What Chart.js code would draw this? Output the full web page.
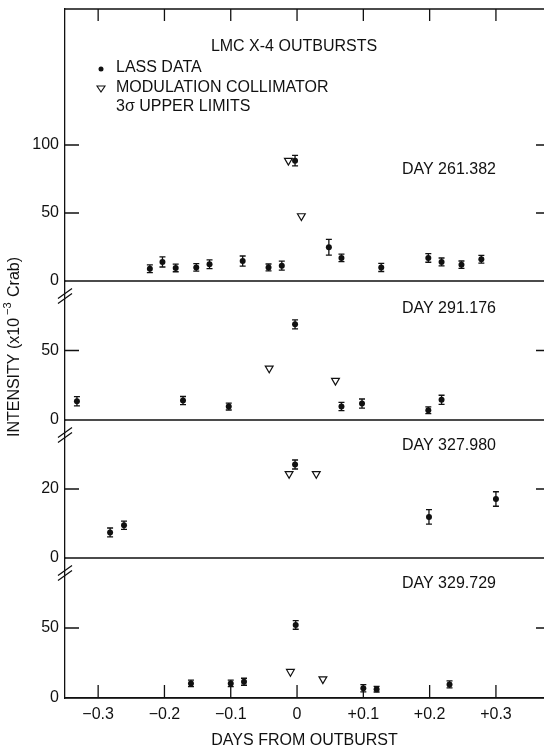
<!DOCTYPE html>
<html>
<head>
<meta charset="utf-8">
<script src="https://cdn.jsdelivr.net/npm/chart.js@4/dist/chart.umd.min.js"></script>
<style>
  html, body { margin: 0; padding: 0; background: #fff; }
  canvas { display: block; }
</style>
</head>
<body>
<canvas id="lmcChart" width="544" height="750"></canvas>
<script>
// days from outburst on the x axis
const xTicks = [-0.3, -0.2, -0.1, 0, 0.1, 0.2, 0.3];

// DAY 261.382
const p1LassX = [-0.222, -0.203, -0.183, -0.152, -0.132, -0.082, -0.043, -0.023, -0.003, 0.048, 0.067, 0.127, 0.198, 0.218, 0.248, 0.278];
const p1LassY = [9, 14, 9.6, 10, 12.3, 14.7, 10, 11.3, 88.5, 24.8, 17, 10, 17, 14, 12, 16];
const p1LassErr = [2.8, 3.7, 2.8, 2.8, 3.2, 3.7, 2.5, 3.3, 3.8, 5.8, 2.8, 3, 3.2, 2.9, 2.7, 2.8];
const p1McX = [-0.013, 0.0065];
const p1McY = [88.5, 47.8];

// DAY 291.176
const p2LassX = [-0.332, -0.172, -0.103, -0.003, 0.067, 0.098, 0.198, 0.218];
const p2LassY = [13.5, 14, 9.7, 68.8, 9.7, 11.8, 7, 14.5];
const p2LassErr = [3.3, 2.9, 2.5, 3.3, 3, 3.3, 2.4, 3.3];
const p2McX = [-0.042, 0.058];
const p2McY = [37.2, 28.3];

// DAY 327.980
const p3LassX = [-0.282, -0.261, -0.003, 0.199, 0.300];
const p3LassY = [7.4, 9.5, 27.1, 11.9, 17.1];
const p3LassErr = [1.3, 1.2, 1.3, 2.1, 2.1];
const p3McX = [-0.012, 0.029];
const p3McY = [24.4, 24.4];

// DAY 329.729
const p4LassX = [-0.160, -0.100, -0.080, -0.002, 0.100, 0.120, 0.230];
const p4LassY = [10.4, 10.4, 11.6, 52.2, 7, 6.3, 9.7];
const p4LassErr = [2.3, 2.3, 2.5, 3.1, 2.6, 2, 2.5];
const p4McX = [-0.010, 0.039];
const p4McY = [18.8, 13.5];

// y ranges and tick labels per panel
const panelDays = ["DAY 261.382", "DAY 291.176", "DAY 327.980", "DAY 329.729"];
const panelMax = [200, 100, 40, 100];
const panelTicks = [[0, 50, 100], [0, 50], [0, 20], [0, 50]];

const ink = "#111";
const font = '"Liberation Sans", Arial, Helvetica, sans-serif';
Chart.defaults.font.family = font;
Chart.defaults.font.size = 16;
Chart.defaults.color = ink;

function pts(xs, ys) {
    return xs.map((x, i) => ({ x: x, y: ys[i] }));
}

function lass(xs, ys, err, axis) {
    return {
        label: "LASS DATA",
        data: pts(xs, ys),
        err: err,
        yAxisID: axis,
        pointStyle: "circle",
        pointRadius: 3,
        pointBackgroundColor: ink,
        pointBorderColor: ink,
        pointBorderWidth: 0,
    };
}

function mc(xs, ys, axis) {
    return {
        label: "MODULATION COLLIMATOR",
        data: pts(xs, ys),
        yAxisID: axis,
        pointStyle: "triangle",
        rotation: 180,
        pointRadius: 4.5,
        pointBackgroundColor: "#fff",
        pointBorderColor: ink,
        pointBorderWidth: 1.2,
    };
}

// no edge padding: labels do not sit on the ends of the axes
function noPad(s) {
    s.paddingTop = 0;
    s.paddingBottom = 0;
    s.paddingLeft = 0;
    s.paddingRight = 0;
}

function yAxis(i, weight) {
    return {
        type: "linear",
        position: "left",
        stack: "panels",
        stackWeight: weight,
        min: 0,
        max: panelMax[i],
        afterBuildTicks: (s) => { s.ticks = panelTicks[i].map((v) => ({ value: v })); },
        afterFit: (s) => { s.width = 65; noPad(s); },
        ticks: { padding: 6, font: { size: 16 } },
        grid: { display: false, drawTicks: false },
        border: { display: true, color: ink, width: 1.3 },
    };
}

// frame, inward ticks, axis breaks, error bars and texts
const framePlugin = {
    id: "frame",
    afterDatasetsDraw(chart) {
        const { ctx, chartArea: a, scales } = chart;
        const x = scales.x;
        ctx.save();
        ctx.strokeStyle = ink;
        ctx.fillStyle = ink;
        ctx.lineWidth = 1.3;

        // error bars
        chart.data.datasets.forEach((ds) => {
            if (!ds.err) return;
            const ys = scales[ds.yAxisID];
            ds.data.forEach((p, i) => {
                const px = x.getPixelForValue(p.x);
                const t = ys.getPixelForValue(p.y + ds.err[i]);
                const b = ys.getPixelForValue(p.y - ds.err[i]);
                ctx.beginPath();
                ctx.moveTo(px, t); ctx.lineTo(px, b);
                ctx.moveTo(px - 3, t); ctx.lineTo(px + 3, t);
                ctx.moveTo(px - 3, b); ctx.lineTo(px + 3, b);
                ctx.stroke();
            });
        });

        // top line and inward x ticks
        ctx.beginPath();
        ctx.moveTo(a.left, a.top); ctx.lineTo(a.right, a.top);
        xTicks.forEach((v) => {
            const px = x.getPixelForValue(v);
            ctx.moveTo(px, a.top); ctx.lineTo(px, a.top + 12);
            ctx.moveTo(px, a.bottom); ctx.lineTo(px, a.bottom - 13);
        });
        ctx.stroke();

        // panels: zero lines, y ticks, breaks, day labels
        ["y1", "y2", "y3", "y4"].forEach((id, i) => {
            const s = scales[id];
            ctx.beginPath();
            ctx.moveTo(a.left, s.bottom); ctx.lineTo(a.right, s.bottom);
            panelTicks[i].forEach((v) => {
                if (v === 0) return;
                const py = s.getPixelForValue(v);
                ctx.moveTo(a.left, py); ctx.lineTo(a.left + 14, py);
                ctx.moveTo(a.right - 8, py); ctx.lineTo(a.right, py);
            });
            ctx.stroke();
            if (i > 0) {
                const by = s.top + 15;
                ctx.beginPath();
                [-2.5, 2.5].forEach((d) => {
                    ctx.moveTo(a.left - 7, by + d + 5);
                    ctx.lineTo(a.left + 7, by + d - 5);
                });
                ctx.stroke();
            }
            ctx.font = "16px " + font;
            ctx.textAlign = "right";
            ctx.textBaseline = "middle";
            const dayY = [81.6, 80.4, 32.6, 81.9][i];
            ctx.fillText(panelDays[i], x.getPixelForValue(0.3), s.getPixelForValue(dayY));
        });

        // legend block
        ctx.font = "16px " + font;
        ctx.textBaseline = "middle";
        ctx.textAlign = "center";
        ctx.fillText("LMC X-4 OUTBURSTS", 294, 47);
        ctx.textAlign = "left";
        ctx.fillText("LASS DATA", 116, 68);
        ctx.fillText("MODULATION COLLIMATOR", 116, 88);
        ctx.fillText("3\u03c3 UPPER LIMITS", 116, 107);
        ctx.beginPath();
        ctx.arc(101, 69, 2.5, 0, Math.PI * 2);
        ctx.fill();
        ctx.beginPath();
        ctx.lineWidth = 1.1;
        ctx.moveTo(97, 86); ctx.lineTo(105, 86); ctx.lineTo(101, 92); ctx.closePath();
        ctx.stroke();

        // y title with superscript
        ctx.translate(15, 347);
        ctx.rotate(-Math.PI / 2);
        const partA = "INTENSITY (x10";
        const sup = "\u22123";
        const partB = " Crab)";
        ctx.font = "16px " + font;
        const wA = ctx.measureText(partA).width;
        const wB = ctx.measureText(partB).width;
        ctx.font = "11px " + font;
        const wS = ctx.measureText(sup).width + 4;
        const start = -(wA + wS + wB) / 2;
        ctx.textAlign = "left";
        ctx.font = "16px " + font;
        ctx.fillText(partA, start, 0);
        ctx.fillText(partB, start + wA + wS, 0);
        ctx.font = "11px " + font;
        ctx.fillText(sup, start + wA + 3, -7);
        ctx.restore();
    },
};

const ctx = document.getElementById("lmcChart").getContext("2d");

const lmcChart = new Chart(ctx, {
    type: "scatter",
    data: {
        datasets: [
            lass(p1LassX, p1LassY, p1LassErr, "y1"),
            mc(p1McX, p1McY, "y1"),
            lass(p2LassX, p2LassY, p2LassErr, "y2"),
            mc(p2McX, p2McY, "y2"),
            lass(p3LassX, p3LassY, p3LassErr, "y3"),
            mc(p3McX, p3McY, "y3"),
            lass(p4LassX, p4LassY, p4LassErr, "y4"),
            mc(p4McX, p4McY, "y4"),
        ],
    },
    options: {
        responsive: false,
        animation: false,
        layout: { autoPadding: false, padding: { top: 9, left: 0, right: 0, bottom: 0 } },
        plugins: { legend: { display: false }, tooltip: { enabled: false } },
        scales: {
            x: {
                type: "linear",
                position: "bottom",
                min: -0.35,
                max: 0.3725,
                afterBuildTicks: (s) => { s.ticks = xTicks.map((v) => ({ value: v })); },
                afterFit: (s) => { s.height = 52; noPad(s); },
                ticks: {
                    padding: 7,
                    autoSkip: false,
                    maxRotation: 0,
                    callback: (v) => {
                        const r = Math.round(v * 10) / 10;
                        if (r === 0) return "0";
                        return (r > 0 ? "+" : "\u2212") + Math.abs(r).toFixed(1);
                    },
                },
                grid: { display: false, drawTicks: false },
                border: { display: true, color: ink, width: 1.3 },
                title: {
                    display: true,
                    text: "DAYS FROM OUTBURST",
                    font: { size: 16 },
                    padding: { top: 0, bottom: 0 },
                },
            },
            // defined bottom-up: the last one in the stack is placed on top
            y4: yAxis(3, 140),
            y3: yAxis(2, 138),
            y2: yAxis(1, 139),
            y1: yAxis(0, 272),
        },
    },
    plugins: [framePlugin],
});
</script>
</body>
</html>
